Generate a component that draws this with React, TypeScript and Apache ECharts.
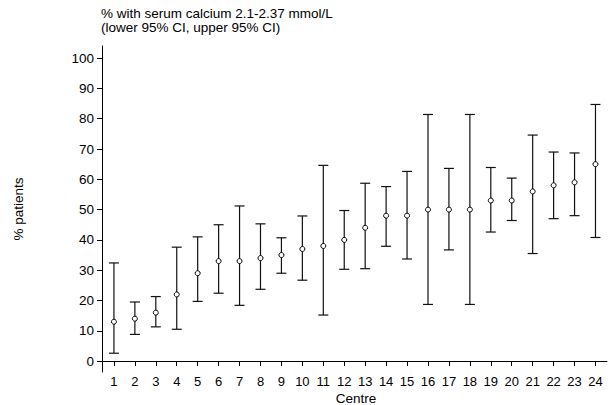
import React, { useEffect, useRef } from "react";
import * as echarts from "echarts";

const centres = [1, 2, 3, 4, 5, 6, 7, 8, 9, 10, 11, 12, 13, 14, 15, 16, 17, 18, 19, 20, 21, 22, 23, 24];
const pct = [13, 14, 16, 22, 29, 33, 33, 34, 35, 37, 38, 40, 44, 48, 48, 50, 50, 50, 53, 53, 56, 58, 59, 65];
const lower = [2.6, 8.8, 11.3, 10.5, 19.7, 22.4, 18.4, 23.7, 29, 26.7, 15.2, 30.3, 30.5, 37.9, 33.7, 18.7, 36.7, 18.7, 42.6, 46.4, 35.5, 47, 48, 40.8];
const upper = [32.4, 19.5, 21.3, 37.6, 41, 45, 51.2, 45.3, 40.7, 47.9, 64.6, 49.7, 58.7, 57.6, 62.6, 81.4, 63.6, 81.4, 63.9, 60.4, 74.6, 69, 68.7, 84.7];
const yTicks = [0, 10, 20, 30, 40, 50, 60, 70, 80, 90, 100];

const FONT = "Liberation Sans, Arial, Helvetica, sans-serif";

export default function App() {
  const ref = useRef<HTMLDivElement>(null);
  useEffect(() => {
    document.body.style.margin = "0";
    const chart = echarts.init(ref.current!, undefined, { renderer: "svg" });
    const barData = centres.map((c, i) => [c, lower[i], upper[i]]);
    const ptData = centres.map((c, i) => [c, pct[i]]);
    chart.setOption({
      animation: false,
      textStyle: { fontFamily: FONT },
      title: {
        text: "% with serum calcium 2.1-2.37 mmol/L\n(lower 95% CI, upper 95% CI)",
        left: 101,
        top: 7,
        padding: 0,
        textStyle: { fontSize: 13.5, fontWeight: "normal", color: "#000", lineHeight: 13.5, fontFamily: FONT },
      },
      grid: { left: 102, right: 1, top: 46, bottom: 33, containLabel: false },
      xAxis: {
        type: "value",
        min: 0.43,
        max: 24.55,
        splitLine: { show: false },
        axisLine: { lineStyle: { color: "#000", width: 1 } },
        axisTick: { show: true, length: 5, lineStyle: { color: "#000" }, customValues: centres },
        axisLabel: { color: "#000", fontSize: 13, margin: 3, customValues: centres, fontFamily: FONT },
      },
      yAxis: {
        type: "value",
        min: -3.6,
        max: 104,
        splitLine: { show: false },
        axisLine: { show: true, lineStyle: { color: "#000", width: 1 } },
        axisTick: { show: true, length: 5, lineStyle: { color: "#000" }, customValues: yTicks },
        axisLabel: { color: "#000", fontSize: 13.5, margin: 8, customValues: yTicks, fontFamily: FONT },
      },
      graphic: [
        {
          type: "text",
          x: 18,
          y: 209,
          rotation: Math.PI / 2,
          style: { text: "% patients", fontSize: 13.5, fill: "#000", align: "center", verticalAlign: "middle", fontFamily: FONT },
        },
        {
          type: "text",
          x: 356,
          y: 398,
          style: { text: "Centre", fontSize: 13.5, fill: "#000", align: "center", verticalAlign: "middle", fontFamily: FONT },
        },
      ],
      series: [
        {
          type: "custom",
          data: barData,
          renderItem: (params: any, api: any) => {
            const x = api.value(0);
            const lo = api.coord([x, api.value(1)]);
            const hi = api.coord([x, api.value(2)]);
            const w = 5;
            const style = { stroke: "#111", lineWidth: 1.2, fill: "none" };
            return {
              type: "group",
              children: [
                { type: "line", shape: { x1: lo[0], y1: lo[1], x2: hi[0], y2: hi[1] }, style },
                { type: "line", shape: { x1: lo[0] - w, y1: lo[1], x2: lo[0] + w, y2: lo[1] }, style },
                { type: "line", shape: { x1: hi[0] - w, y1: hi[1], x2: hi[0] + w, y2: hi[1] }, style },
              ],
            };
          },
          z: 2,
        },
        {
          type: "scatter",
          data: ptData,
          symbol: "circle",
          symbolSize: 5,
          itemStyle: { color: "#fff", borderColor: "#000", borderWidth: 1, opacity: 1 },
          z: 3,
        },
      ],
    });
    return () => chart.dispose();
  }, []);
  return <div ref={ref} style={{ width: 608, height: 405 }} />;
}
